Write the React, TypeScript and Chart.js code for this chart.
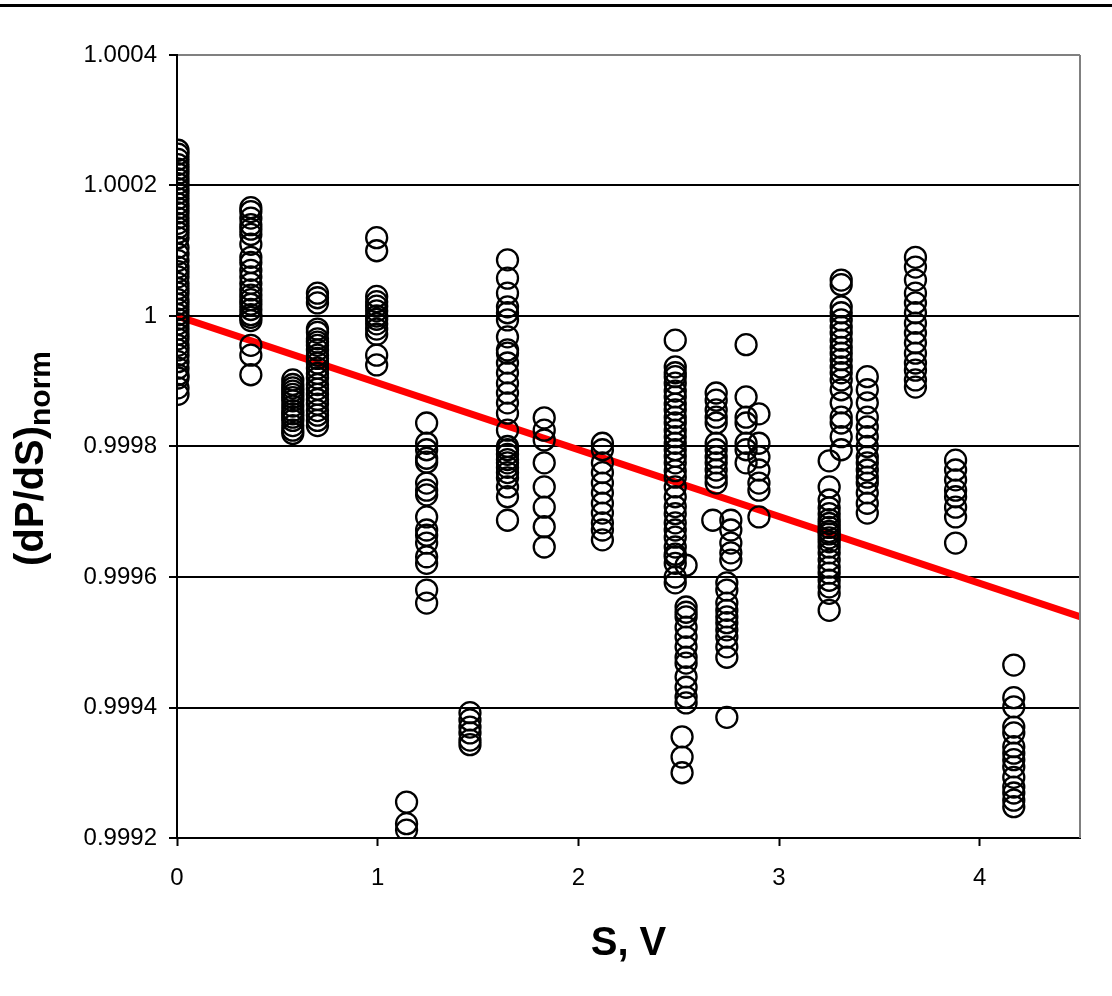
import React, { useEffect, useRef } from 'react';
import { Chart, registerables } from 'chart.js';

Chart.register(...registerables);

// ---- data ----
const colS = [
  0.005, 0.368, 0.577, 0.70, 0.995, 1.144, 1.244, 1.46, 1.647, 1.83, 2.12, 2.483, 2.537, 2.537, 2.517,
  2.687, 2.67, 2.76, 2.74, 2.836, 2.90, 3.25, 3.31, 3.44, 3.68, 3.88, 4.17,
];

const colValues: number[][] = [
  // 0.005
  [1.000254, 1.000248, 1.00024, 1.000232, 1.000225, 1.000218, 1.00021, 1.000203, 1.000195, 1.000188,
   1.00018, 1.000172, 1.000165, 1.000158, 1.00015, 1.000142, 1.000135, 1.000128, 1.00012, 1.000105,
   1.000095, 1.000085, 1.000075, 1.000068, 1.00006, 1.00005, 1.000042, 1.000035, 1.000025, 1.000018,
   1.00001, 1.000002, 0.999995, 0.999988, 0.99998, 0.999972, 0.999965, 0.999955, 0.999948, 0.99994,
   0.99993, 0.99992, 0.99991, 0.999905, 0.99989, 0.99988],
  // 0.368
  [1.000166, 1.00016, 1.00015, 1.00014, 1.000133, 1.000125, 1.00011, 1.00009, 1.000082, 1.00007,
   1.00006, 1.00005, 1.00004, 1.000032, 1.000025, 1.000018, 1.00001, 1.000002, 0.999998, 0.999993,
   0.999955, 0.99994, 0.99991],
  // 0.577
  [0.999902, 0.999895, 0.99989, 0.999885, 0.99988, 0.999875, 0.99987, 0.999862, 0.999855, 0.99985,
   0.999845, 0.99984, 0.999832, 0.999825, 0.99982],
  // 0.70
  [1.000035, 1.000028, 1.00002, 0.99998, 0.999975, 0.999965, 0.99996, 0.999955, 0.999948, 0.99994,
   0.999935, 0.999928, 0.99992, 0.999912, 0.999905, 0.999895, 0.999888, 0.99988, 0.999872, 0.999865,
   0.999855, 0.999848, 0.99984, 0.999832],
  // 0.995
  [1.00012, 1.0001, 1.00003, 1.000022, 1.000015, 1.000008, 1.0, 0.999995, 0.999988, 0.99998,
   0.999972, 0.99994, 0.999925],
  // 1.144
  [0.999255, 0.999222, 0.999212],
  // 1.244
  [0.999836, 0.999805, 0.999795, 0.999782, 0.999776, 0.999744, 0.999733, 0.999726, 0.999692, 0.999672,
   0.999664, 0.999652, 0.999631, 0.999621, 0.99958, 0.99956],
  // 1.46
  [0.999392, 0.999381, 0.99937, 0.999361, 0.99935, 0.999343],
  // 1.647
  [1.000086, 1.000058, 1.000035, 1.000014, 1.000005, 0.999994, 0.999968, 0.999948, 0.999943, 0.999928,
   0.999913, 0.999897, 0.999882, 0.999867, 0.999851, 0.999825, 0.9998, 0.999795, 0.999788, 0.99978,
   0.999775, 0.999768, 0.99976, 0.999752, 0.999738, 0.999723, 0.999687],
  // 1.83
  [0.999844, 0.999825, 0.99981, 0.999775, 0.999738, 0.999707, 0.999677, 0.999646],
  // 2.12
  [0.999805, 0.999795, 0.999775, 0.99976, 0.999744, 0.999729, 0.999713, 0.999698, 0.999683, 0.999672,
   0.999657],
  // 2.483
  [0.999963, 0.999922, 0.999913, 0.999907, 0.999897, 0.999885, 0.999876, 0.999865, 0.999856, 0.999845,
   0.999836, 0.999825, 0.999815, 0.999805, 0.999795, 0.999785, 0.999775, 0.999763, 0.999753, 0.999738,
   0.999723, 0.999708, 0.999697, 0.999683, 0.999672, 0.999661, 0.999646, 0.999635, 0.999631, 0.999621,
   0.9996, 0.999591],
  // 2.537 outlier
  [0.999618],
  // 2.537 lower cluster
  [0.999554, 0.999546, 0.999539, 0.999523, 0.999508, 0.999493, 0.999477, 0.999468, 0.999447, 0.999431,
   0.999416, 0.999407],
  // 2.517
  [0.999355, 0.999324, 0.9993],
  // 2.687
  [0.999882, 0.999871, 0.999856, 0.999845, 0.999836, 0.999805, 0.999795, 0.999784, 0.999775, 0.999764,
   0.999753, 0.999744],
  // 2.67
  [0.999687],
  // 2.76
  [0.999687, 0.999672, 0.999652, 0.999637, 0.999626],
  // 2.74
  [0.999591, 0.99958, 0.99956, 0.999549, 0.999539, 0.99953, 0.999519, 0.999508, 0.999493, 0.999477,
   0.999385],
  // 2.836
  [0.999956, 0.999876, 0.999845, 0.999836, 0.999805, 0.999795, 0.999775],
  // 2.90
  [0.99985, 0.999805, 0.999784, 0.999764, 0.999744, 0.999733, 0.999692],
  // 3.25
  [0.999778, 0.999738, 0.999718, 0.999706, 0.999697, 0.999688, 0.999682, 0.999676, 0.99967, 0.999666,
   0.99966, 0.999654, 0.999646, 0.999637, 0.999626, 0.999615, 0.999606, 0.999595, 0.999585, 0.999575,
   0.999549],
  // 3.31
  [1.000055, 1.000048, 1.000014, 1.000005, 0.999994, 0.999983, 0.999974, 0.999963, 0.999952, 0.999943,
   0.999933, 0.999922, 0.999913, 0.999902, 0.999887, 0.999867, 0.999845, 0.999836, 0.999815, 0.999795],
  // 3.44
  [0.999907, 0.999887, 0.999867, 0.999845, 0.99983, 0.999815, 0.9998, 0.999784, 0.999775, 0.999764,
   0.999753, 0.999744, 0.999729, 0.999713, 0.999698],
  // 3.68
  [1.00009, 1.000075, 1.000055, 1.000035, 1.00002, 1.000005, 0.999989, 0.999974, 0.999959, 0.999943,
   0.999928, 0.999917, 0.999902, 0.999891],
  // 3.88
  [0.999779, 0.999764, 0.999749, 0.999733, 0.999723, 0.999707, 0.999692, 0.999652],
  // 4.17
  [0.999465, 0.999415, 0.999401, 0.99937, 0.999361, 0.99934, 0.99933, 0.99932, 0.999309, 0.999293,
   0.999278, 0.999269, 0.999258, 0.999248],
];

const trendS = [0, 4.5];
const trendValues = [1.0, 0.999539];

const xTickValues = [0, 1, 2, 3, 4];
const xTickLabels = ['0', '1', '2', '3', '4'];
const yTickValues = [0.9992, 0.9994, 0.9996, 0.9998, 1, 1.0002, 1.0004];
const yTickLabels = ['0.9992', '0.9994', '0.9996', '0.9998', '1', '1.0002', '1.0004'];

const xTitle = 'S, V';
const yTitleMain = '(dP/dS)';
const yTitleSub = 'norm';

const FONT = '"Liberation Sans", Arial, Helvetica, sans-serif';

export default function App() {
  const ref = useRef<HTMLCanvasElement | null>(null);

  useEffect(() => {
    document.body.style.margin = '0';
    const canvas = ref.current;
    if (!canvas) return;

    const points: { x: number; y: number }[] = [];
    colS.forEach((s, i) => {
      colValues[i].forEach((v) => points.push({ x: s, y: v }));
    });
    const trend = trendS.map((s, i) => ({ x: s, y: trendValues[i] }));

    const decor = {
      id: 'decor',
      afterDraw(chart: any) {
        const ctx = chart.ctx as CanvasRenderingContext2D;
        const a = chart.chartArea;
        ctx.save();
        // top black rule
        ctx.fillStyle = '#000';
        ctx.fillRect(0, 4, chart.width, 3);
        // right gray border
        ctx.strokeStyle = '#808080';
        ctx.lineWidth = 2;
        ctx.beginPath();
        ctx.moveTo(a.right, a.top);
        ctx.lineTo(a.right, a.bottom);
        ctx.stroke();
        // x title
        ctx.fillStyle = '#000';
        ctx.font = `bold 40px ${FONT}`;
        ctx.textAlign = 'center';
        ctx.textBaseline = 'alphabetic';
        ctx.fillText(xTitle, (a.left + a.right) / 2, 955);
        // y title with subscript
        ctx.translate(43, 566);
        ctx.rotate(-Math.PI / 2);
        ctx.textAlign = 'left';
        ctx.font = `bold 40px ${FONT}`;
        ctx.fillText(yTitleMain, 0, 0);
        const w = ctx.measureText(yTitleMain).width;
        ctx.font = `bold 30px ${FONT}`;
        ctx.fillText(yTitleSub, w, 7);
        ctx.restore();
      },
    };

    const chart = new Chart(canvas, {
      type: 'scatter',
      data: {
        datasets: [
          {
            type: 'scatter',
            data: points,
            pointStyle: 'circle',
            pointRadius: 10.5,
            pointHoverRadius: 10.5,
            pointBorderWidth: 2.3,
            borderColor: '#000',
            backgroundColor: 'rgba(0,0,0,0)',
            pointBorderColor: '#000',
            pointBackgroundColor: 'rgba(0,0,0,0)',
            order: 1,
          } as any,
          {
            type: 'line',
            data: trend,
            borderColor: '#ff0000',
            borderWidth: 7,
            pointRadius: 0,
            fill: false,
            order: 2,
          } as any,
        ],
      },
      options: {
        responsive: false,
        animation: false,
        events: [],
        layout: { padding: { top: 55, right: 32, left: 0, bottom: 0 } },
        plugins: {
          legend: { display: false },
          tooltip: { enabled: false },
        },
        scales: {
          x: {
            type: 'linear',
            min: 0,
            max: 4.5,
            afterBuildTicks: (scale: any) => {
              scale.ticks = xTickValues.map((v) => ({ value: v }));
            },
            afterFit: (scale: any) => {
              scale.height = 158;
            },
            ticks: {
              callback: (_v: any, i: number) => xTickLabels[i],
              color: '#000',
              font: { family: FONT, size: 24 },
              padding: 18,
              maxRotation: 0,
              autoSkip: false,
            },
            grid: {
              drawOnChartArea: false,
              drawTicks: true,
              tickLength: 8,
              tickColor: '#000',
              tickWidth: 2,
              color: '#000',
            },
            border: { display: true, color: '#000', width: 2 },
          },
          y: {
            type: 'linear',
            min: 0.9992,
            max: 1.0004,
            afterBuildTicks: (scale: any) => {
              scale.ticks = yTickValues.map((v) => ({ value: v }));
            },
            afterFit: (scale: any) => {
              scale.width = 177;
            },
            ticks: {
              callback: (_v: any, i: number) => yTickLabels[i],
              color: '#000',
              font: { family: FONT, size: 24 },
              padding: 12,
              autoSkip: false,
            },
            grid: {
              color: (c: any) => (c.index === yTickValues.length - 1 ? '#808080' : '#000'),
              lineWidth: 2,
              drawTicks: true,
              tickLength: 8,
              tickColor: '#000',
              tickWidth: 2,
            },
            border: { display: true, color: '#000', width: 2 },
          },
        },
      },
      plugins: [decor],
    });

    return () => chart.destroy();
  }, []);

  return (
    <div style={{ width: 1112, height: 996, background: '#fff' }}>
      <canvas ref={ref} width={1112} height={996} style={{ display: 'block' }} />
    </div>
  );
}
